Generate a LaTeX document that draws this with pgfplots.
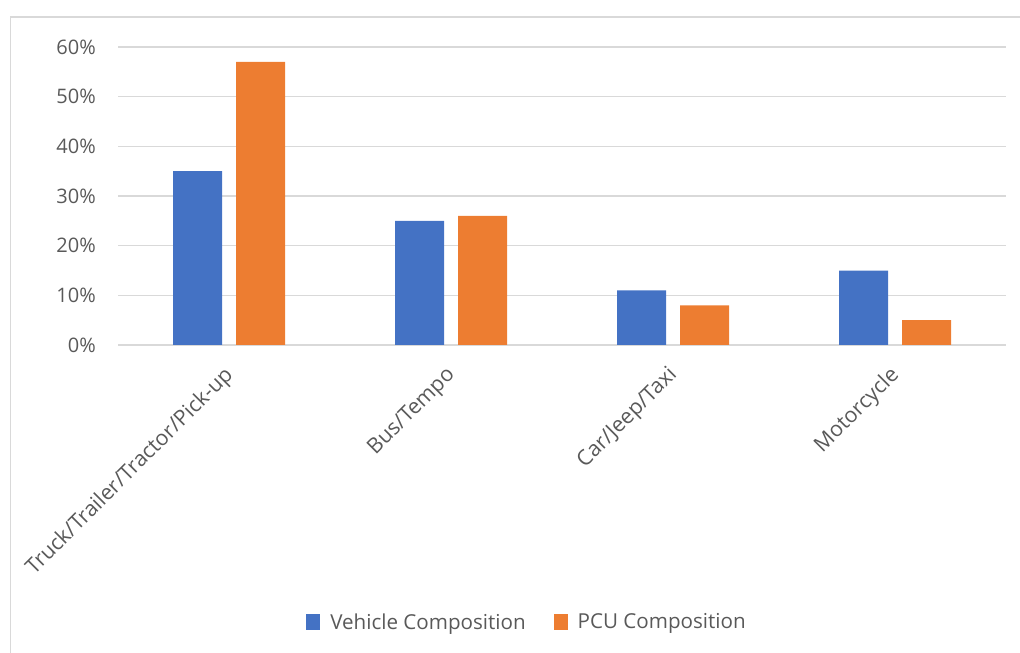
\documentclass[border=0pt]{standalone}
\usepackage{fontspec}
\setmainfont{Open Sans}
\usepackage{pgfplots}
\pgfplotsset{compat=1.18}
\definecolor{vblue}{HTML}{4472C4}
\definecolor{porange}{HTML}{ED7D31}
\definecolor{txtgray}{HTML}{595959}
\definecolor{gridgray}{HTML}{D9D9D9}
\begin{document}
\begin{tikzpicture}[x=1pt,y=1pt]
\useasboundingbox (0,0) rectangle (1020,653);
% chart frame
\draw[gridgray, line width=1.5pt] (10.5,0) -- (10.5,636) -- (1020,636);
\begin{axis}[
  at={(118pt,308pt)}, anchor=south west,
  scale only axis, width=888pt, height=298pt,
  ybar=14pt, bar width=49pt,
  xmin=-0.5, xmax=3.5, ymin=0, ymax=60,
  xtick={0,1,2,3},
  xticklabels={Truck/Trailer/Tractor/Pick-up, Bus/Tempo, Car/Jeep/Taxi, Motorcycle},
  ytick={0,10,...,60},
  yticklabel={\pgfmathprintnumber{\tick}\%},
  /pgf/number format/assume math mode=true,
  axis line style={draw=none},
  major tick length=0pt,
  ymajorgrids,
  major grid style={gridgray, line width=1.3pt},
  tick label style={font=\fontsize{20}{24}\selectfont, text=txtgray},
  yticklabel style={anchor=east, inner sep=0pt, xshift=-22pt},
  xticklabel style={font=\fontsize{21.3}{25}\selectfont, anchor=east, inner sep=0pt,
    xshift=1pt, yshift=-27pt, rotate=45},
  legend style={at={(0.4606,-0.93)}, anchor=center, draw=none, fill=none,
    legend columns=2, font=\fontsize{20.6}{24}\selectfont, text=txtgray,
    /tikz/every odd column/.append style={column sep=8pt},
    /tikz/every even column/.append style={column sep=26pt}},
  legend image code/.code={\fill[#1] (0pt,-8pt) rectangle (14pt,8pt);},
  clip=false,
]
\addplot[fill=vblue, draw=none] coordinates {(0,35) (1,25) (2,11) (3,15)};
\addplot[fill=porange, draw=none] coordinates {(0,57) (1,26) (2,8) (3,5)};
\legend{Vehicle Composition, PCU Composition}
\end{axis}
\end{tikzpicture}
\end{document}
